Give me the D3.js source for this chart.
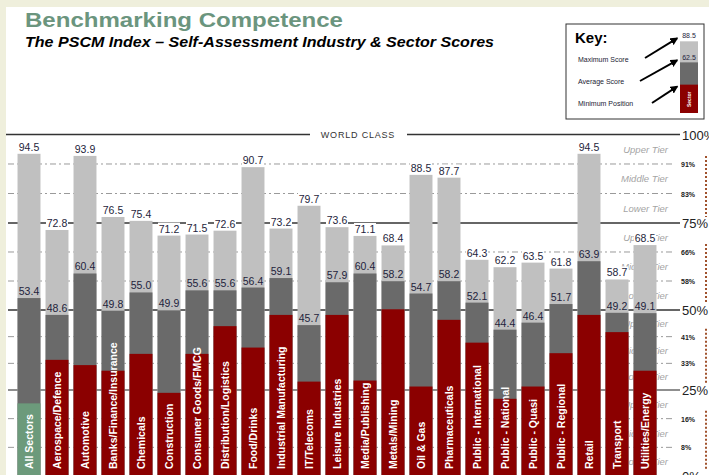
<!DOCTYPE html>
<html>
<head>
<meta charset="utf-8">
<script src="https://cdn.jsdelivr.net/npm/d3@7"></script>
<style>
  body { margin: 0; background: #efefdc; }
  svg { display: block; font-family: "Liberation Sans", Arial, sans-serif; }
</style>
</head>
<body>
<div id="chart"></div>
<script>
// PSCM index self-assessment scores, per sector
const categories = ["All Sectors", "Aerospace/Defence", "Automotive", "Banks/Finance/Insurance", "Chemicals",
    "Construction", "Consumer Goods/FMCG", "Distribution/Logistics", "Food/Drinks", "Industrial Manufacturing",
    "IT/Telecoms", "Leisure Industries", "Media/Publishing", "Metals/Mining", "Oil & Gas", "Pharmaceuticals",
    "Public - International", "Public - National", "Public - Quasi", "Public - Regional", "Retail",
    "Transport", "Utilities/Energy"];
const maxScores = [94.5, 72.8, 93.9, 76.5, 75.4, 71.2, 71.5, 72.6, 90.7, 73.2, 79.7, 73.6, 71.1, 68.4, 88.5, 87.7,
    64.3, 62.2, 63.5, 61.8, 94.5, 58.7, 68.5];
const avgScores = [53.4, 48.6, 60.4, 49.8, 55.0, 49.9, 55.6, 55.6, 56.4, 59.1, 45.7, 57.9, 60.4, 58.2, 54.7, 58.2,
    52.1, 44.4, 46.4, 51.7, 63.9, 49.2, 49.1];
const minScores = [23.4, 35.8, 34.3, 32.7, 37.5, 26.4, 37.5, 45.4, 39.3, 48.6, 29.6, 48.6, 29.9, 50.2, 28.2, 47.2,
    40.7, 24.7, 28.2, 37.7, 48.6, 43.7, 32.7];

// right hand tier scale
const majorTicks = [100, 75, 50, 25, 0];
const minorTicks = [91.67, 83.33, 66.67, 58.33, 41.67, 33.33, 16.67, 8.33];
const tierNames = ["Upper Tier", "Middle Tier", "Lower Tier"];

// key
const keyItems = ["Maximum Score", "Average Score", "Minimum Position"];
const keyValues = { max: 88.5, avg: 62.5, min: 35 };

const width = 709, height = 475;
const colors = { max: "#c0c0c0", avg: "#6a6a6a", min: "#8b0000", all: "#6c9a7b" };

const svg = d3.select("#chart").append("svg")
    .attr("width", width)
    .attr("height", height);

svg.append("rect").attr("width", width).attr("height", height).attr("fill", "#efefdc");
svg.append("rect").attr("x", 6).attr("y", 7).attr("width", width - 6).attr("height", height - 7).attr("fill", "#fff");

// scales
const x = d3.scaleBand().domain(categories).range([15, 659]).paddingInner(0.18).paddingOuter(0.09);
const y = d3.scaleLinear().domain([0, 100]).range([485.5, 134.5]);
// the tier guide lines in the original are not evenly spread below 50%
const tierY = d3.scaleLinear().domain([0, 25, 50, 75, 100]).range([476, 390, 310, 223, 134.5]);

// titles
svg.append("text")
    .attr("x", 25).attr("y", 27)
    .attr("textLength", 318).attr("lengthAdjust", "spacingAndGlyphs")
    .style("font-size", "21px").style("font-weight", "bold")
    .style("fill", "#6b957e")
    .text("Benchmarking Competence");

svg.append("text")
    .attr("x", 25).attr("y", 47)
    .attr("textLength", 469).attr("lengthAdjust", "spacingAndGlyphs")
    .style("font-size", "14.5px").style("font-weight", "bold").style("font-style", "italic")
    .style("fill", "#000")
    .text("The PSCM Index \u2013 Self-Assessment Industry & Sector Scores");

// grid lines
const grid = svg.append("g").attr("class", "grid");

grid.selectAll(".minor")
    .data(minorTicks)
    .enter().append("line")
    .attr("x1", 8).attr("x2", 673)
    .attr("y1", d => tierY(d)).attr("y2", d => tierY(d))
    .style("stroke", "#9a9a9a")
    .style("stroke-width", 1)
    .style("stroke-dasharray", "6,3,2,3");

grid.selectAll(".major")
    .data(majorTicks.filter(d => d > 0))
    .enter().append("line")
    .attr("x1", d => d === 100 ? 6 : 8).attr("x2", 680)
    .attr("y1", d => tierY(d)).attr("y2", d => tierY(d))
    .style("stroke", d => d === 25 ? "#6a6a6a" : "#333")
    .style("stroke-width", 1.5);

// gap in the top line for "WORLD CLASS"
svg.append("rect")
    .attr("x", 310).attr("y", tierY(100) - 4)
    .attr("width", 97).attr("height", 8)
    .attr("fill", "#fff");
svg.append("text")
    .attr("x", 358).attr("y", tierY(100) + 3.5)
    .attr("text-anchor", "middle")
    .style("font-size", "9px").style("letter-spacing", "0.8px")
    .style("fill", "#333")
    .text("WORLD CLASS");

// tier names inside each quarter
const tierBand = [];
[100, 75, 50, 25].forEach(top => {
    tierNames.forEach((name, i) => {
        tierBand.push({ name: name, mid: top - (i + 0.5) * 25 / 3 });
    });
});
grid.selectAll(".tier-name")
    .data(tierBand)
    .enter().append("text")
    .attr("x", 668)
    .attr("y", d => tierY(d.mid) + 3.5)
    .attr("text-anchor", "end")
    .style("font-size", "9.5px").style("font-style", "italic")
    .style("fill", "#a4a4a4")
    .text(d => d.name);

// tick labels on the right
svg.selectAll(".major-label")
    .data(majorTicks)
    .enter().append("text")
    .attr("x", 682)
    .attr("y", d => tierY(d) + 5)
    .style("font-size", "13px")
    .style("fill", "#222")
    .text(d => d + "%");

svg.selectAll(".minor-label")
    .data(minorTicks)
    .enter().append("text")
    .attr("x", 681)
    .attr("y", d => tierY(d) + 3)
    .style("font-size", "7px").style("font-weight", "bold")
    .style("fill", "#222")
    .text(d => Math.floor(d) + "%");

// red dotted brackets at the far right
svg.selectAll(".bracket")
    .data([[91.67, 75], [66.67, 50], [41.67, 25], [16.67, 0]])
    .enter().append("line")
    .attr("x1", 706).attr("x2", 706)
    .attr("y1", d => tierY(d[0]) - 8).attr("y2", d => tierY(d[1]) - 6)
    .style("stroke", "#a0522d")
    .style("stroke-width", 2)
    .style("stroke-dasharray", "2,2");

// bars
const rows = categories.map((c, i) => ({ cat: c, max: maxScores[i], avg: avgScores[i], min: minScores[i] }));
const bars = svg.append("g").attr("class", "bars");
const bw = x.bandwidth();

bars.selectAll(".bar-max")
    .data(rows)
    .enter().append("rect")
    .attr("x", d => x(d.cat)).attr("width", bw)
    .attr("y", d => y(d.max)).attr("height", d => y(0) - y(d.max))
    .style("fill", colors.max);

bars.selectAll(".bar-avg")
    .data(rows)
    .enter().append("rect")
    .attr("x", d => x(d.cat)).attr("width", bw)
    .attr("y", d => y(d.avg)).attr("height", d => y(0) - y(d.avg))
    .style("fill", colors.avg);

bars.selectAll(".bar-min")
    .data(rows)
    .enter().append("rect")
    .attr("x", d => x(d.cat)).attr("width", bw)
    .attr("y", d => y(d.min)).attr("height", d => y(0) - y(d.min))
    .style("fill", (d, i) => i === 0 ? colors.all : colors.min);

// value labels (max on white, avg on light grey)
function addLabels(key, bg) {
    const g = svg.append("g").attr("class", "labels-" + key);
    const items = g.selectAll("g")
        .data(rows)
        .enter().append("g")
        .attr("transform", d => `translate(${x(d.cat) + bw / 2},${y(d[key]) - 3})`);
    items.append("rect")
        .attr("x", -11).attr("y", -10)
        .attr("width", 22).attr("height", 11)
        .style("fill", bg);
    items.append("text")
        .attr("text-anchor", "middle")
        .style("font-size", "10.5px")
        .style("fill", "#1e1e3c")
        .text(d => d[key].toFixed(1));
}
addLabels("max", "#fff");
addLabels("avg", colors.max);

// category names inside the bars
svg.selectAll(".cat-label")
    .data(rows)
    .enter().append("text")
    .attr("transform", d => `translate(${x(d.cat) + bw / 2 + 4},469) rotate(-90)`)
    .style("font-size", "10.5px").style("font-weight", "bold")
    .style("fill", "#fff")
    .text(d => d.cat);

// key box
const key = svg.append("g").attr("class", "key");
key.append("rect")
    .attr("x", 566).attr("y", 24)
    .attr("width", 138).attr("height", 95)
    .style("fill", "#fff")
    .style("stroke", "#333").style("stroke-width", 1);

key.append("text")
    .attr("x", 575).attr("y", 43)
    .style("font-size", "15px").style("font-weight", "bold")
    .style("fill", "#000")
    .text("Key:");

key.selectAll(".key-item")
    .data(keyItems)
    .enter().append("text")
    .attr("x", 578)
    .attr("y", (d, i) => 62 + i * 22)
    .style("font-size", "7px")
    .style("fill", "#223")
    .text(d => d);

const ky = d3.scaleLinear().domain([0, 100]).range([113, 32]);
const kx = 680, kw = 18;
key.append("rect").attr("x", kx).attr("width", kw)
    .attr("y", ky(keyValues.max)).attr("height", ky(0) - ky(keyValues.max)).style("fill", colors.max);
key.append("rect").attr("x", kx).attr("width", kw)
    .attr("y", ky(keyValues.avg)).attr("height", ky(0) - ky(keyValues.avg)).style("fill", colors.avg);
key.append("rect").attr("x", kx).attr("width", kw)
    .attr("y", ky(keyValues.min)).attr("height", ky(0) - ky(keyValues.min)).style("fill", colors.min);

key.append("text")
    .attr("x", kx + kw / 2).attr("y", ky(keyValues.max) - 3)
    .attr("text-anchor", "middle")
    .style("font-size", "7px").style("fill", "#1e1e3c")
    .text(keyValues.max.toFixed(1));
key.append("text")
    .attr("x", kx + kw / 2).attr("y", ky(keyValues.avg) - 2)
    .attr("text-anchor", "middle")
    .style("font-size", "7px").style("fill", "#1e1e3c")
    .text(keyValues.avg.toFixed(1));
key.append("text")
    .attr("transform", `translate(${kx + kw / 2 + 2},${ky(0) - 6}) rotate(-90)`)
    .style("font-size", "5px").style("font-weight", "bold")
    .style("fill", "#fff")
    .text("Sector");

// arrows from key text to the bar
svg.append("defs").append("marker")
    .attr("id", "arrow")
    .attr("viewBox", "0 0 10 10")
    .attr("refX", 8).attr("refY", 5)
    .attr("markerWidth", 4).attr("markerHeight", 4)
    .attr("orient", "auto")
    .append("path")
    .attr("d", "M0,0 L10,5 L0,10 z")
    .style("fill", "#000");

const arrows = [
    { from: [645, 58], to: [677, ky(keyValues.max) - 3] },
    { from: [640, 81], to: [677, ky(keyValues.avg) - 2] },
    { from: [652, 103], to: [677, ky(keyValues.min) + 2] }
];
key.selectAll(".arrow")
    .data(arrows)
    .enter().append("line")
    .attr("x1", d => d.from[0]).attr("y1", d => d.from[1])
    .attr("x2", d => d.to[0]).attr("y2", d => d.to[1])
    .style("stroke", "#000").style("stroke-width", 2)
    .attr("marker-end", "url(#arrow)");
</script>
</body>
</html>
